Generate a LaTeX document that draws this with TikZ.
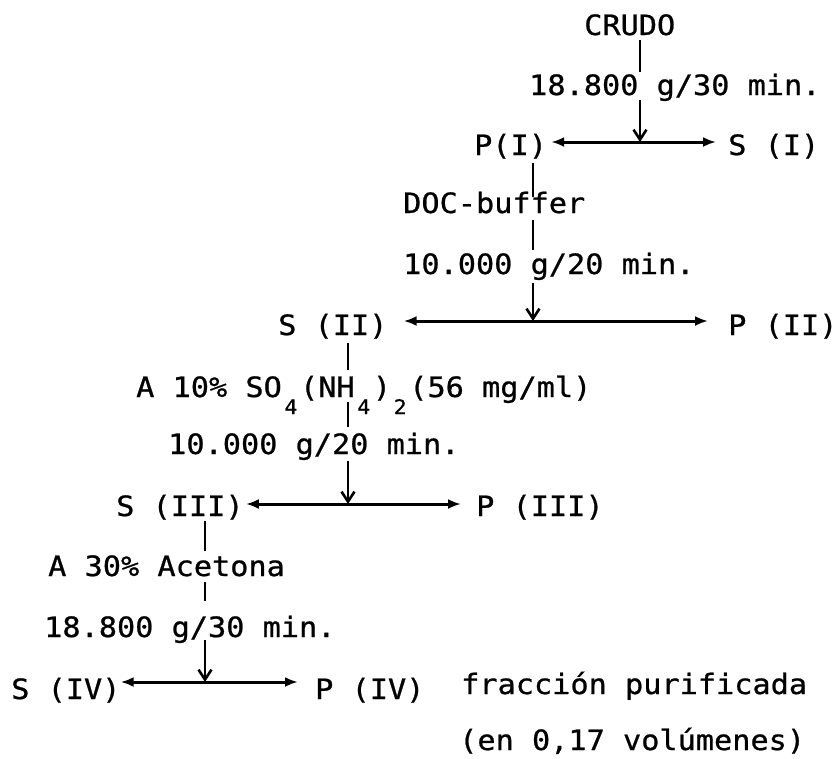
\documentclass[tikz,border=0pt]{standalone}
\usepackage{fontspec}
\newfontfamily\tw[FakeStretch=1.08,FakeBold=0.8]{DejaVu Sans Mono}
\usetikzlibrary{arrows.meta,calc}
\newcommand\lowd[1]{\makebox[18.2pt][c]{\raisebox{-17pt}{\fontsize{20}{20}\selectfont #1}}}
\begin{document}
\begin{tikzpicture}[x=1pt,y=-1pt,
  lbl/.style={anchor=base west, inner sep=0pt, font=\tw\fontsize{28}{30}\selectfont},
  conn/.style={line width=2.6pt},
  stem/.style={line width=2.8pt, -{Straight Barb[length=10pt,width=13pt,line width=2.6pt]}},
  split/.style={line width=3pt, {Latex[length=13pt,width=10pt]}-{Latex[length=13pt,width=10pt]}}]
\path[use as bounding box] (0,0) rectangle (837,758);

\node[lbl] (crudo) at (584,35) {CRUDO};
\node[lbl] (g1) at (529,95) {18.800 g/30 min.};
\node[lbl] (pI) at (474,155) {P(I)};
\node[lbl] (sI) at (728,155) {S (I)};
\node[lbl] (doc) at (403,213) {DOC-buffer};
\node[lbl] (g2) at (403,274) {10.000 g/20 min.};
\node[lbl] (sII) at (278,335) {S (II)};
\node[lbl] (pII) at (728,335) {P (II)};
\node[lbl] (amm) at (136,397) {A 10\% SO\lowd{4}(NH\lowd{4})\lowd{2}(56 mg/ml)};
\node[lbl] (g3) at (168,454) {10.000 g/20 min.};
\node[lbl] (sIII) at (116,516) {S (III)};
\node[lbl] (pIII) at (476,516) {P (III)};
\node[lbl] (acet) at (48,576) {A 30\% Acetona};
\node[lbl] (g4) at (44,637) {18.800 g/30 min.};
\node[lbl] (sIV) at (11,699) {S (IV)};
\node[lbl] (pIV) at (315,699) {P (IV)};
\node[lbl] (frac) at (461,694) {fracción purificada};
\node[lbl] (vol) at (459,750) {(en 0,17 volúmenes)};

\coordinate (j1) at (640,142);
\coordinate (j2) at (533,321);
\coordinate (j3) at (348,504);
\coordinate (j4) at (205,682);

\draw[conn] ($(j1|-crudo.base)+(0,5)$) -- ($(j1|-g1.base)+(0,-23)$);
\draw[stem] ($(j1|-g1.base)+(0,5)$) -- (j1);
\draw[split] ($(pI.base east)+(4,-13)$) -- ($(sI.base west)+(-12,-13)$);

\draw[conn] ($(j2|-pI.base)+(0,8)$) -- ($(j2|-doc.base)+(0,-16)$);
\draw[conn] ($(j2|-doc.base)+(0,7)$) -- ($(j2|-g2.base)+(0,-24)$);
\draw[stem] ($(j2|-g2.base)+(0,9)$) -- (j2);
\draw[split] ($(sII.base east)+(16,-14)$) -- ($(pII.base west)+(-20,-14)$);

\draw[conn] ($(j3|-sII.base)+(0,8)$) -- ($(j3|-amm.base)+(0,-27)$);
\draw[conn] ($(j3|-amm.base)+(0,5)$) -- ($(j3|-g3.base)+(0,-27)$);
\draw[stem] ($(j3|-g3.base)+(0,7)$) -- (j3);
\draw[split] ($(sIII.base east)+(2,-12)$) -- ($(pIII.base west)+(-15,-12)$);

\draw[conn] ($(j4|-sIII.base)+(0,5)$) -- ($(j4|-acet.base)+(0,-25)$);
\draw[conn] ($(j4|-acet.base)+(0,6)$) -- ($(j4|-g4.base)+(0,-36)$);
\draw[stem] ($(j4|-g4.base)+(0,3)$) -- (j4);
\draw[split] ($(sIV.base east)+(0,-17)$) -- ($(pIV.base west)+(-17,-17)$);
\end{tikzpicture}
\end{document}
